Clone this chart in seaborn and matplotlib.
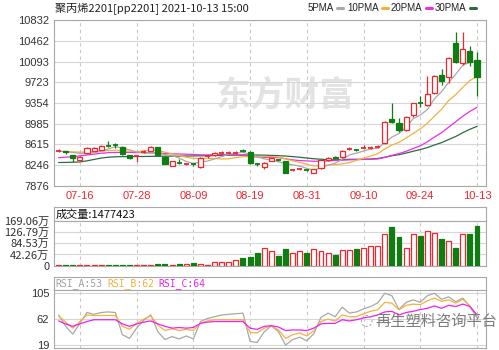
import numpy as np
import pandas as pd
import matplotlib
matplotlib.use("Agg")
import matplotlib.pyplot as plt
from matplotlib.lines import Line2D
import seaborn as sns

# ---------------- data ----------------
dates = ["07-13", "07-14", "07-15", "07-16", "07-19", "07-20", "07-21", "07-22", "07-23", "07-26",
         "07-27", "07-28", "07-29", "07-30", "08-02", "08-03", "08-04", "08-05", "08-06", "08-09",
         "08-10", "08-11", "08-12", "08-13", "08-16", "08-17", "08-18", "08-19", "08-20", "08-23",
         "08-24", "08-25", "08-26", "08-27", "08-30", "08-31", "09-01", "09-02", "09-03", "09-06",
         "09-07", "09-08", "09-09", "09-10", "09-13", "09-14", "09-15", "09-16", "09-17", "09-22",
         "09-23", "09-24", "09-27", "09-28", "09-29", "09-30", "10-08", "10-11", "10-12", "10-13"]
opens = [8495, 8490, 8420, 8335, 8455, 8500, 8514, 8590, 8605, 8567,
         8424, 8395, 8475, 8501, 8567, 8394, 8233, 8285, 8258, 8265,
         8215, 8395, 8424, 8460, 8462, 8460, 8500, 8483, 8265, 8215,
         8322, 8340, 8317, 8145, 8168, 8162, 8108, 8187, 8335, 8394,
         8382, 8535, 8520, 8535, 8540, 8565, 8633, 9062, 9001, 8871,
         9139, 9355, 9317, 9537, 9853, 9822, 10419, 10073, 10282, 10118]
highs = [8540, 8500, 8430, 8400, 8560, 8575, 8600, 8680, 8640, 8580,
         8430, 8420, 8505, 8580, 8575, 8400, 8325, 8350, 8285, 8290,
         8385, 8420, 8475, 8490, 8495, 8490, 8525, 8490, 8290, 8300,
         8375, 8345, 8325, 8170, 8195, 8180, 8175, 8340, 8385, 8400,
         8510, 8575, 8540, 8605, 8590, 8605, 9030, 9348, 9080, 9115,
         9355, 9478, 9835, 9850, 9955, 10180, 10626, 10626, 10370, 10269]
lows = [8480, 8450, 8305, 8325, 8445, 8490, 8505, 8560, 8545, 8430,
        8360, 8305, 8465, 8495, 8415, 8255, 8225, 8260, 8245, 8230,
        8200, 8370, 8415, 8440, 8445, 8450, 8480, 8265, 8235, 8169,
        8310, 8320, 8100, 8140, 8160, 8130, 8100, 8180, 8325, 8355,
        8375, 8520, 8490, 8530, 8530, 8550, 8620, 9000, 8840, 8860,
        9100, 9276, 9300, 9520, 9675, 9705, 10062, 10030, 10015, 9478]
closes = [8505, 8470, 8365, 8395, 8555, 8550, 8585, 8580, 8595, 8442,
          8371, 8410, 8490, 8573, 8424, 8264, 8317, 8270, 8268, 8255,
          8376, 8410, 8465, 8470, 8472, 8470, 8490, 8276, 8255, 8287,
          8365, 8330, 8108, 8155, 8178, 8152, 8169, 8335, 8376, 8365,
          8501, 8545, 8510, 8548, 8555, 8578, 9019, 9019, 8871, 9108,
          9347, 9340, 9513, 9835, 9746, 10162, 10090, 10312, 10090, 9822]
ma5 = [8490, 8485, 8470, 8455, 8458, 8467, 8490, 8533, 8573, 8550,
       8515, 8480, 8462, 8457, 8454, 8432, 8414, 8370, 8309, 8275,
       8297, 8316, 8355, 8395, 8439, 8457, 8473, 8436, 8393, 8356,
       8335, 8303, 8269, 8249, 8227, 8185, 8152, 8198, 8242, 8279,
       8349, 8424, 8459, 8494, 8532, 8547, 8642, 8744, 8808, 8919,
       9073, 9137, 9236, 9429, 9556, 9719, 9869, 10029, 10080, 10095]
ma10 = [8490, 8488, 8480, 8475, 8480, 8485, 8495, 8505, 8510, 8504,
        8491, 8485, 8498, 8515, 8502, 8474, 8447, 8416, 8383, 8365,
        8365, 8365, 8363, 8352, 8357, 8377, 8395, 8396, 8394, 8398,
        8396, 8388, 8353, 8321, 8292, 8260, 8228, 8234, 8246, 8253,
        8267, 8288, 8329, 8368, 8406, 8448, 8533, 8602, 8651, 8726,
        8810, 8890, 8990, 9119, 9238, 9396, 9503, 9633, 9755, 9826]
ma20 = [8376, 8385, 8395, 8410, 8425, 8440, 8455, 8465, 8470, 8472,
        8470, 8468, 8465, 8462, 8458, 8452, 8447, 8442, 8438, 8435,
        8428, 8425, 8431, 8434, 8430, 8426, 8421, 8406, 8389, 8382,
        8381, 8377, 8358, 8337, 8325, 8319, 8312, 8315, 8320, 8326,
        8332, 8338, 8341, 8345, 8349, 8354, 8381, 8418, 8449, 8490,
        8539, 8589, 8660, 8744, 8822, 8922, 9018, 9118, 9203, 9276]
ma30 = [8290, 8292, 8295, 8300, 8320, 8345, 8370, 8385, 8393, 8395,
        8396, 8397, 8398, 8400, 8402, 8403, 8404, 8405, 8406, 8408,
        8410, 8412, 8415, 8418, 8420, 8423, 8425, 8425, 8424, 8422,
        8417, 8413, 8405, 8396, 8384, 8370, 8357, 8349, 8341, 8339,
        8343, 8347, 8348, 8347, 8352, 8362, 8385, 8411, 8430, 8459,
        8491, 8522, 8557, 8603, 8645, 8701, 8755, 8823, 8884, 8935]
volume_wan = [1.5, 1.5, 1.5, 1.5, 1.5, 1.5, 1.5, 1.5, 1.5, 1.5,
              1.5, 1.5, 2, 4, 5, 5, 4.5, 5, 5, 9,
              5, 4, 13, 15, 15, 21, 28, 34, 49, 65,
              57, 35, 62, 46, 55, 49, 62, 55, 48, 40,
              59, 59, 62, 67, 74, 74, 119, 144, 109, 65,
              118, 113, 130, 124, 99, 94, 65, 118, 119, 147.7423]
rsi_a = [69, 50, 37, 55, 73, 70, 73, 74, 73, 36,
         30, 47, 60, 69, 41, 28, 33, 29, 34, 29,
         58, 63, 66, 69, 70, 71, 72, 25, 23, 41,
         51, 41, 19, 28, 32, 26, 38, 65, 72, 66,
         82, 72, 74, 79, 83, 89, 105, 101, 78, 90,
         94, 90, 101, 105, 95, 99, 91, 97, 83, 64]
rsi_b = [67.5, 57, 47, 58, 69, 68, 68, 68, 68, 50,
         45, 55, 62, 67.5, 52, 43, 46, 43, 45, 43,
         55, 59, 61, 61, 61, 61, 61, 40, 39, 47,
         51, 44, 30, 36, 39, 34, 43, 58, 62, 59,
         69, 66, 66, 71, 75, 77.5, 90, 88.6, 77.5, 85,
         87, 86, 92.5, 97, 91.6, 94, 88.6, 95, 84, 67.5]
rsi_c = [59, 54, 50, 54, 58, 61, 61, 61, 61, 54,
         50, 54, 57, 59, 54, 50, 47, 48, 47, 48,
         55, 57, 58, 58, 58, 58, 58, 47, 45, 50,
         51, 49, 43, 44, 44, 43, 47, 54, 55, 55,
         61, 59, 61, 64, 66, 69, 74, 75, 69, 73,
         75, 78, 80, 84, 80, 85, 83, 87, 83, 69]
price_ticks = [7876, 8246, 8615, 8985, 9354, 9723, 10093, 10462, 10832]
vol_ticks = [0, 42.26, 84.53, 126.79, 169.06]
vol_tick_labels = ["0", "42.26万", "84.53万", "126.79万", "169.06万"]
rsi_ticks = [19, 62, 105]
date_tick_labels = ["07-16", "07-28", "08-09", "08-19", "08-31", "09-10", "09-24", "10-13"]
title_text = "聚丙烯2201[pp2201] 2021-10-13 15:00"
legend_names = ["5PMA", "10PMA", "20PMA", "30PMA"]
vol_header = "成交量:1477423"
rsi_header = ["RSI_A:53", "RSI_B:62", "RSI_C:64"]

# ---------------- style ----------------
sns.set_style("white")
plt.rcParams["font.family"] = ["Liberation Sans", "Noto Sans CJK SC", "DejaVu Sans"]
CJK = ["Noto Sans CJK SC", "DejaVu Sans"]

RED = "#f0262c"
GREEN = "#0f7d12"
C5, C10, C20, C30 = "#a9a9a9", "#f2b23c", "#ee2ce8", "#2e6b40"
GRID = "#d6d6d6"
SPINE = "#a8a8a8"

W, H = 499, 350
fig = plt.figure(figsize=(W / 100, H / 100), dpi=100)


def rect(x0, y0, x1, y1):
    return [x0 / W, 1 - y1 / H, (x1 - x0) / W, (y1 - y0) / H]


L, R = 53.5, 485.5
ax = fig.add_axes(rect(L, 20.2, R, 185.7))
axvh = fig.add_axes(rect(L, 207, R, 220.7))
axv = fig.add_axes(rect(L, 220.7, R, 265.7))
axrh = fig.add_axes(rect(L, 277, R, 289.5))
axr = fig.add_axes(rect(L, 289.5, R, 347.5))

n = len(dates)
xs = np.arange(n)
xlim = (-0.72, n - 1 + 1.2)
tick_idx = [dates.index(d) for d in date_tick_labels]

for a in (ax, axvh, axv, axrh, axr):
    for s in a.spines.values():
        s.set_color(SPINE)
        s.set_linewidth(0.8)
    a.set_xlim(*xlim)
    a.tick_params(length=0)
for a in (axvh, axrh):
    a.set_xticks([])
    a.set_yticks([])

# ---------------- price panel ----------------
ax.set_ylim(price_ticks[0], price_ticks[-1])
ax.set_yticks(price_ticks)
ax.set_yticklabels([str(t) for t in price_ticks], fontsize=8, color="#333333")
ax.set_xticks(tick_idx)
ax.set_xticklabels(date_tick_labels, fontsize=8, color=RED)
ax.tick_params(axis="y", pad=3)
ax.tick_params(axis="x", pad=4)
ax.grid(axis="y", color=GRID, lw=0.8)
ax.grid(axis="x", color="#c8c8c8", lw=0.8, ls=(0, (3, 3)))
ax.set_axisbelow(True)

ax.text(0.536, 0.55, "东方财富", transform=ax.transAxes,
        fontsize=25, fontweight="bold", color="#e3e3e3", ha="center", va="center",
        family=CJK, zorder=0)

ma_df = pd.DataFrame({"idx": xs, "MA5": ma5, "MA10": ma10, "MA20": ma20, "MA30": ma30})
for name, col in (("MA30", C30), ("MA20", C20), ("MA10", C10), ("MA5", C5)):
    sns.lineplot(data=ma_df, x="idx", y=name, ax=ax, color=col, lw=0.9, legend=False, zorder=2)

for i in range(n):
    o, c = opens[i], closes[i]
    up = c >= o
    col = RED if up else GREEN
    ax.vlines(i, lows[i], highs[i], color=col, lw=0.9, zorder=3)
    h = abs(c - o)
    if h < 20:
        ax.hlines((o + c) / 2, i - 0.36, i + 0.36, color=col, lw=1.3, zorder=4)
    else:
        ax.bar(i, h, bottom=min(o, c), width=0.72, facecolor="white" if up else col,
               edgecolor=col, lw=0.9, zorder=4)
ax.set_xlabel("")
ax.set_ylabel("")

# ---------------- volume panel ----------------
axvh.text(0.006, 0.45, vol_header, transform=axvh.transAxes, fontsize=8,
          ha="left", va="center", color="#111111", family=CJK)
axv.set_ylim(0, vol_ticks[-1])
axv.set_yticks(vol_ticks)
axv.set_yticklabels(vol_tick_labels, fontsize=8, color="#333333", family=CJK)
axv.tick_params(axis="y", pad=3)
axv.set_xticks(tick_idx)
axv.set_xticklabels([])
axv.grid(axis="y", color=GRID, lw=0.8)
axv.grid(axis="x", color="#c8c8c8", lw=0.8, ls=(0, (3, 3)))
axv.set_axisbelow(True)
for i in range(n):
    up = closes[i] >= opens[i]
    col = RED if up else GREEN
    axv.bar(i, volume_wan[i], width=0.7, facecolor="white" if up else col,
            edgecolor=col, lw=0.9, zorder=3)

# ---------------- RSI panel ----------------
hx = [55.5, 107, 158]
hcols = ["#a0a0a0", "#f2b23c", "#f020f0"]
for t, px, colr in zip(rsi_header, hx, hcols):
    fig.text(px / W, 1 - 283.5 / H, t, fontsize=7, color=colr, ha="left", va="center",
             family=["DejaVu Sans Mono"])
rsi_df = pd.DataFrame({"idx": xs, "A": rsi_a, "B": rsi_b, "C": rsi_c})
axr.set_ylim(14.8, 111.3)
axr.set_yticks(rsi_ticks)
axr.set_yticklabels([str(t) for t in rsi_ticks], fontsize=8, color="#333333")
axr.tick_params(axis="y", pad=3)
axr.set_xticks(tick_idx)
axr.set_xticklabels([])
axr.grid(axis="y", color=GRID, lw=0.8)
axr.grid(axis="x", color="#c8c8c8", lw=0.8, ls=(0, (3, 3)))
axr.set_axisbelow(True)
sns.lineplot(data=rsi_df, x="idx", y="A", ax=axr, color="#a8a8a8", lw=0.9, legend=False)
sns.lineplot(data=rsi_df, x="idx", y="B", ax=axr, color="#f2b23c", lw=0.9, legend=False)
sns.lineplot(data=rsi_df, x="idx", y="C", ax=axr, color="#f020f0", lw=0.9, legend=False)
axr.set_xlabel("")
axr.set_ylabel("")
fig.text(497 / W, 1 - 321 / H, "再生塑料咨询平台", fontsize=11,
         color="#7d7d7d", ha="right", va="center", family=CJK, zorder=5)
fig.text(366 / W, 1 - 321 / H, "◌", fontsize=11, color="#9a9a9a", ha="center",
         va="center", family=["DejaVu Sans"], zorder=5)

# ---------------- header ----------------
fig.text(55 / W, 1 - 8 / H, title_text, fontsize=8, color="#222222", ha="left",
         va="center", family=CJK)
leg_x = [308, 347, 391, 435]
leg_cols = [C5, C10, C20, C30]
for name, px, colr in zip(legend_names, leg_x, leg_cols):
    fig.text(px / W, 1 - 8 / H, name, fontsize=7, color="#222222", ha="left",
             va="center", family=["Liberation Sans Narrow", "Liberation Sans"])
fig.canvas.draw()
renderer = fig.canvas.get_renderer()
for txt, colr in zip([t for t in fig.texts if t.get_text() in legend_names], leg_cols):
    bb = txt.get_window_extent(renderer)
    x0 = bb.x1 + 3
    fig.add_artist(Line2D([x0 / W, (x0 + 6) / W], [1 - 8 / H, 1 - 8 / H],
                          transform=fig.transFigure, color=colr, lw=2.2))

fig.savefig("out.png", dpi=100)
